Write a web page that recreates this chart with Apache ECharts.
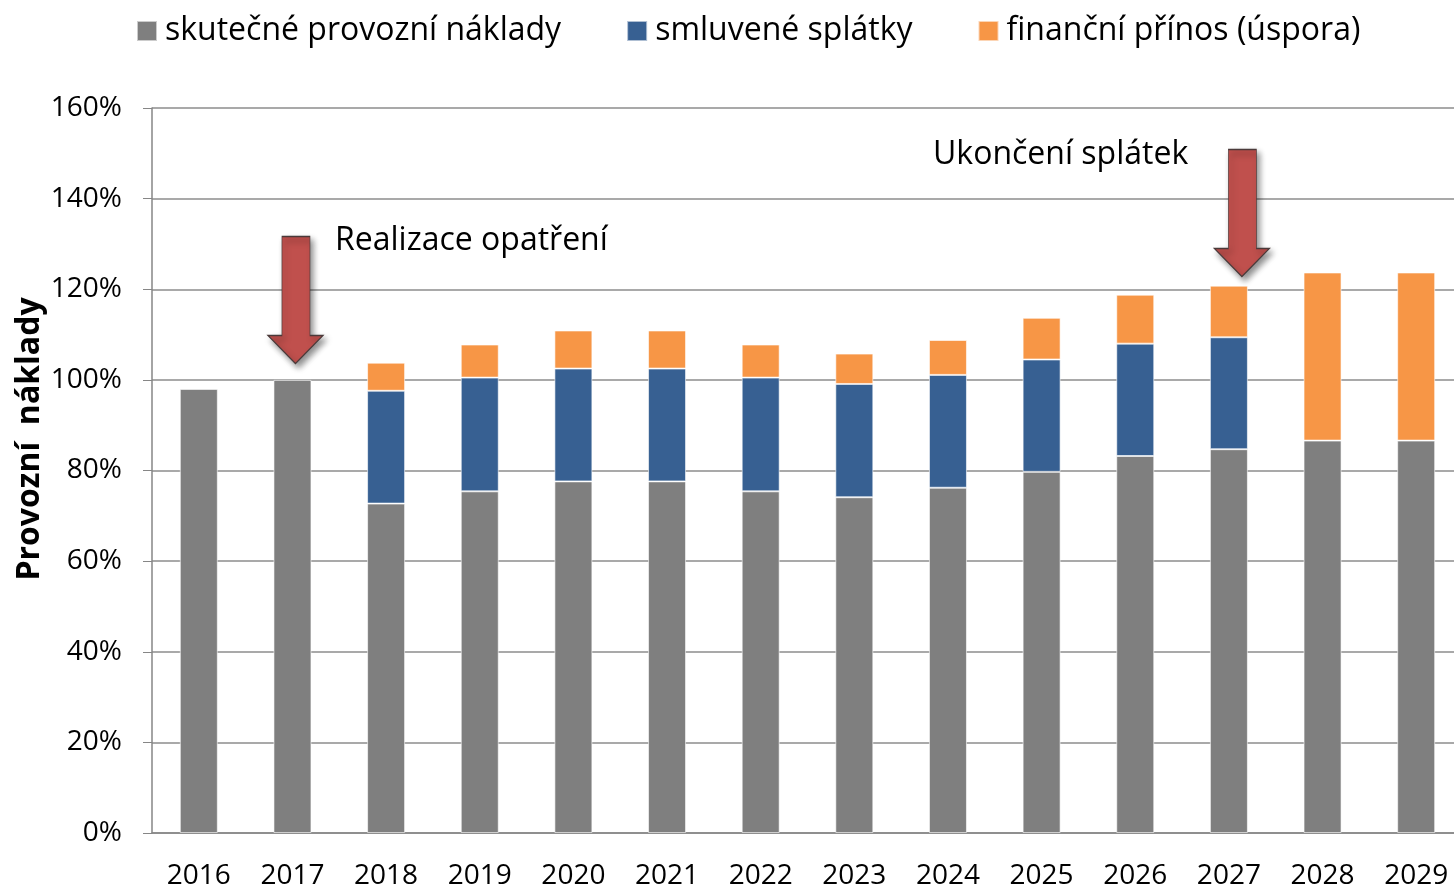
<!DOCTYPE html>
<html>
<head>
<meta charset="utf-8">
<script src="https://cdn.jsdelivr.net/npm/echarts@6/dist/echarts.min.js"></script>
<style>
  html, body { margin: 0; padding: 0; background: #fff; overflow: hidden; }
  /* the original chart is cut at the right edge, so the canvas is a bit wider than the window */
  #chart { width: 1470px; height: 890px; }
</style>
</head>
<body>
<div id="chart"></div>
<script>
const years = ["2016", "2017", "2018", "2019", "2020", "2021", "2022", "2023", "2024", "2025", "2026", "2027", "2028", "2029"];
const provozni = [98, 100, 72.7, 75.4, 77.6, 77.6, 75.4, 74.1, 76.2, 79.7, 83.2, 84.7, 86.6, 86.6];
const splatky = [null, null, 24.9, 25.1, 24.9, 24.9, 25.1, 25.0, 24.9, 24.8, 24.8, 24.7, null, null];
const prinos = [null, null, 6.2, 7.3, 8.4, 8.4, 7.3, 6.7, 7.7, 9.2, 10.8, 11.4, 37.1, 37.1];
const seriesNames = ["skutečné provozní náklady", "smluvené splátky", "finanční přínos (úspora)"];
const yTicks = { min: 0, max: 160, step: 20 };

const font = "Open Sans";
const arrowPath = "path://M14,0 L42,0 L42,99 L55,99 L27.5,127 L0,99 L14,99 Z";

const chart = echarts.init(document.getElementById("chart"));

const barBase = {
  type: "bar",
  stack: "total",
  barWidth: 38,
  itemStyle: { borderColor: "rgba(255,255,255,0.6)", borderWidth: 1 },
};

const option = {
  animation: false,
  textStyle: { fontFamily: font },
  legend: {
    data: seriesNames,
    icon: "rect",
    top: 10,
    left: 131,
    itemWidth: 20,
    itemHeight: 20,
    itemGap: 65,
    textStyle: { fontSize: 32, color: "#000", fontFamily: font, padding: [0, 0, 0, 3] },
  },
  grid: { left: 152, top: 108, right: 7, height: 729 },
  xAxis: {
    type: "category",
    data: years,
    axisLine: { lineStyle: { color: "#868686", width: 1.5 } },
    axisTick: { length: 10, lineStyle: { color: "#868686" } },
    axisLabel: { color: "#000", fontSize: 28, margin: 29 },
  },
  yAxis: {
    type: "value",
    min: yTicks.min,
    max: yTicks.max,
    interval: yTicks.step,
    axisLine: { show: true, lineStyle: { color: "#868686", width: 1.5 } },
    axisTick: { show: true, length: 9, lineStyle: { color: "#868686" } },
    axisLabel: { color: "#000", fontSize: 28, margin: 30, formatter: "{value}%" },
    splitLine: { lineStyle: { color: "#8c8c8c", width: 1.5 } },
  },
  graphic: [
    {
      type: "text",
      x: 30,
      y: 439,
      rotation: Math.PI / 2,
      style: {
        text: "Provozní  náklady",
        font: "bold 32px " + font,
        fill: "#000",
        textAlign: "center",
        textVerticalAlign: "middle",
      },
    },
    {
      type: "text",
      x: 335,
      y: 241,
      style: { text: "Realizace opatření", font: "32px " + font, fill: "#000", textVerticalAlign: "middle" },
    },
    {
      type: "text",
      x: 933,
      y: 155,
      style: { text: "Ukončení splátek", font: "32px " + font, fill: "#000", textVerticalAlign: "middle" },
    },
  ],
  series: [
    Object.assign({}, barBase, { name: seriesNames[0], data: provozni, itemStyle: Object.assign({}, barBase.itemStyle, { color: "#7f7f7f" }) }),
    Object.assign({}, barBase, { name: seriesNames[1], data: splatky, itemStyle: Object.assign({}, barBase.itemStyle, { color: "#376092" }) }),
    Object.assign({}, barBase, { name: seriesNames[2], data: prinos, itemStyle: Object.assign({}, barBase.itemStyle, { color: "#f79646" }) }),
    {
      type: "line",
      name: "arrows",
      data: [],
      silent: true,
      markPoint: {
        symbol: arrowPath,
        symbolSize: [55, 127],
        label: { show: false },
        itemStyle: {
          color: "#c0504d",
          borderColor: "#4a3a3a",
          borderWidth: 1,
          shadowBlur: 6,
          shadowOffsetX: 3,
          shadowOffsetY: 4,
          shadowColor: "rgba(0,0,0,0.45)",
        },
        data: [
          { coord: ["2017", 103.6], symbolOffset: [3, "-50%"] },
          { coord: ["2027", 122.8], symbolOffset: [13, "-50%"] },
        ],
      },
    },
  ],
};

chart.setOption(option);
</script>
</body>
</html>
